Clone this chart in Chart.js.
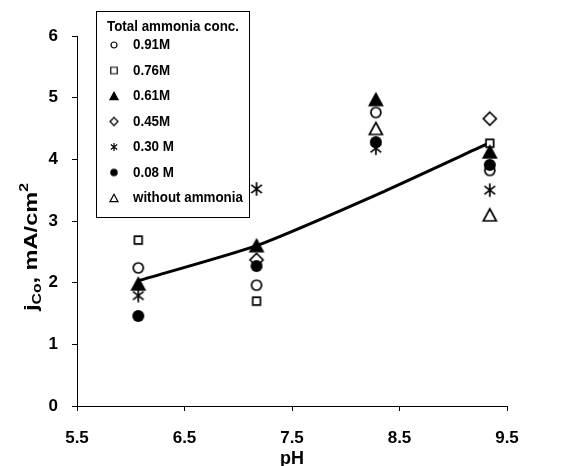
<!DOCTYPE html>
<html><head><meta charset="utf-8">
<script src="https://cdn.jsdelivr.net/npm/chart.js@4.4.1/dist/chart.umd.min.js"></script>
<style>html,body{margin:0;padding:0;background:#fff;} #wrap{width:567px;height:466px;}</style>
</head><body><div id="wrap"><canvas id="c" width="567" height="466"></canvas></div>
<script>
// ---- data ----
const phValues = [6.07, 7.17, 8.28, 9.34];
const conc091 = [2.24, 1.96, 4.76, 3.82];
const conc076 = [2.69, 1.70, null, 4.26];
const conc061 = [1.98, 2.60, 4.97, 4.12];
const conc045 = [null, 2.37, null, 4.66];
const conc030 = [1.79, 3.52, 4.18, 3.50];
const conc008 = [1.46, 2.27, 4.28, 3.91];
const concNone = [null, null, 4.50, 3.10];
const fitX = [6.07, 7.17, 8.28, 9.34];
const fitY = [2.03, 2.60, 3.42, 4.27];
const xTicks = [5.5, 6.5, 7.5, 8.5, 9.5];
const yTicks = [0, 1, 2, 3, 4, 5, 6];
const seriesLabels = ['0.91M', '0.76M', '0.61M', '0.45M', '0.30 M', '0.08 M', 'without ammonia'];
const legendTitle = 'Total ammonia conc.';
const xTitle = 'pH';

const FONT = '"Liberation Sans", Arial, Helvetica, sans-serif';

function makeMarker(kind, s, lw) {
  const size = 26;
  const c = document.createElement('canvas');
  c.width = size; c.height = size;
  const g = c.getContext('2d');
  g.translate(size / 2, size / 2);
  g.strokeStyle = '#000'; g.fillStyle = '#fff'; g.lineWidth = lw;
  g.lineJoin = 'miter';
  g.beginPath();
  switch (kind) {
    case 'circle': g.arc(0, 0, 5 * s, 0, Math.PI * 2); g.fill(); g.stroke(); break;
    case 'square': g.rect(-3.8 * s, -3.8 * s, 7.6 * s, 7.6 * s); g.fill(); g.stroke(); break;
    case 'triFill':
      g.moveTo(0, -6 * s); g.lineTo(6.5 * s, 6 * s); g.lineTo(-6.5 * s, 6 * s); g.closePath();
      g.fillStyle = '#000'; g.fill(); g.stroke(); break;
    case 'diamond':
      g.moveTo(0, -6.5 * s); g.lineTo(6.5 * s, 0); g.lineTo(0, 6.5 * s); g.lineTo(-6.5 * s, 0); g.closePath();
      g.fill(); g.stroke(); break;
    case 'star': {
      const r = 6.8 * s;
      g.moveTo(0, -r); g.lineTo(0, r);
      const a = 52 * Math.PI / 180;
      g.moveTo(-r * Math.sin(a), -r * Math.cos(a)); g.lineTo(r * Math.sin(a), r * Math.cos(a));
      g.moveTo(r * Math.sin(a), -r * Math.cos(a)); g.lineTo(-r * Math.sin(a), r * Math.cos(a));
      g.stroke(); break;
    }
    case 'dot': g.arc(0, 0, 6 * s, 0, Math.PI * 2); g.fillStyle = '#000'; g.fill(); break;
    case 'triOpen':
      g.moveTo(0, -6 * s); g.lineTo(6.5 * s, 6 * s); g.lineTo(-6.5 * s, 6 * s); g.closePath();
      g.fill(); g.stroke(); break;
  }
  return c;
}

const kinds = ['circle', 'square', 'triFill', 'diamond', 'star', 'dot', 'triOpen'];
const chartMarkers = kinds.map(k => makeMarker(k, 1, 1.7));
const legendScale = [0.6, 0.85, 0.62, 0.62, 0.6, 0.62, 0.62];
const legendMarkers = kinds.map((k, i) => makeMarker(k, legendScale[i], 1.2));

const seriesValues = [conc091, conc076, conc061, conc045, conc030, conc008, concNone];

const datasets = seriesValues.map((vals, i) => ({
  type: 'scatter',
  label: seriesLabels[i],
  data: phValues.map((x, j) => vals[j] == null ? null : ({ x: x, y: vals[j] })).filter(p => p),
  pointStyle: chartMarkers[i],
  pointRadius: 6,
  pointHoverRadius: 6,
  showLine: false,
  order: 10 - i
}));
datasets.push({
  type: 'line',
  label: 'fit',
  data: fitX.map((x, i) => ({ x: x, y: fitY[i] })),
  borderColor: '#000',
  borderWidth: 3,
  pointRadius: 0,
  tension: 0.2,
  fill: false,
  order: 100
});

const overlay = {
  id: 'overlay',
  afterDraw(chart) {
    const ctx = chart.ctx;
    ctx.save();
    ctx.fillStyle = '#000';
    ctx.strokeStyle = '#000';
    // x title
    ctx.font = 'bold 18px ' + FONT;
    ctx.textAlign = 'center';
    ctx.textBaseline = 'alphabetic';
    const xs = chart.scales.x;
    ctx.fillText(xTitle, (xs.left + xs.right) / 2, 464);

    // y title: j_Co, mA/cm^2
    const segs = [
      { t: 'j', size: 18, dy: 0 },
      { t: 'Co', size: 12, dy: 4 },
      { t: ', mA/cm', size: 18, dy: 0 },
      { t: '2', size: 12, dy: -9 }
    ];
    let total = 0;
    segs.forEach(sg => { ctx.font = 'bold ' + sg.size + 'px ' + FONT; sg.w = ctx.measureText(sg.t).width; total += sg.w; });
    const stretch = 128 / total;
    ctx.translate(37, 247);
    ctx.rotate(-Math.PI / 2);
    ctx.scale(stretch, 1);
    ctx.textAlign = 'left';
    let px = -total / 2;
    segs.forEach(sg => { ctx.font = 'bold ' + sg.size + 'px ' + FONT; ctx.fillText(sg.t, px, sg.dy); px += sg.w; });
    ctx.setTransform(1, 0, 0, 1, 0, 0);

    // legend
    ctx.lineWidth = 1;
    ctx.strokeRect(96.5, 11.5, 153, 206);
    ctx.font = 'bold 15px ' + FONT;
    ctx.textBaseline = 'middle';
    ctx.textAlign = 'left';
    const sx = 132 / ctx.measureText(legendTitle).width;
    ctx.save(); ctx.translate(107, 27); ctx.scale(sx, 1); ctx.fillText(legendTitle, 0, 0); ctx.restore();
    seriesLabels.forEach((lab, i) => {
      const y = 45 + i * 25.5;
      const m = legendMarkers[i];
      ctx.drawImage(m, 114 - m.width / 2, y - m.height / 2);
      ctx.save(); ctx.translate(133, y); ctx.scale(sx, 1); ctx.fillText(lab, 0, 0); ctx.restore();
    });
    ctx.restore();
  }
};

new Chart(document.getElementById('c'), {
  type: 'scatter',
  data: { datasets: datasets },
  options: {
    responsive: false,
    animation: false,
    events: [],
    layout: { padding: { top: 36, right: 60, left: 0, bottom: 0 } },
    plugins: { legend: { display: false }, tooltip: { enabled: false }, title: { display: false } },
    scales: {
      x: {
        type: 'linear', min: 5.5, max: 9.5,
        afterBuildTicks: sc => { sc.ticks = xTicks.map(v => ({ value: v })); },
        afterFit: sc => { sc.height = 60; },
        grid: { drawOnChartArea: false, drawTicks: true, tickLength: 5, color: '#000', lineWidth: 1 },
        border: { display: true, color: '#000', width: 1 },
        ticks: { color: '#000', font: { family: FONT, size: 17, weight: 'bold' }, padding: 17, maxRotation: 0, autoSkip: false, callback: v => Number(v).toFixed(1) }
      },
      y: {
        type: 'linear', min: 0, max: 6,
        afterBuildTicks: sc => { sc.ticks = yTicks.map(v => ({ value: v })); },
        afterFit: sc => { sc.width = 77; },
        grid: { drawOnChartArea: false, drawTicks: true, tickLength: 5, color: '#000', lineWidth: 1 },
        border: { display: true, color: '#000', width: 1 },
        ticks: { color: '#000', font: { family: FONT, size: 17, weight: 'bold' }, padding: 14, autoSkip: false, callback: v => String(v) }
      }
    }
  },
  plugins: [overlay]
});
</script>
</body></html>
